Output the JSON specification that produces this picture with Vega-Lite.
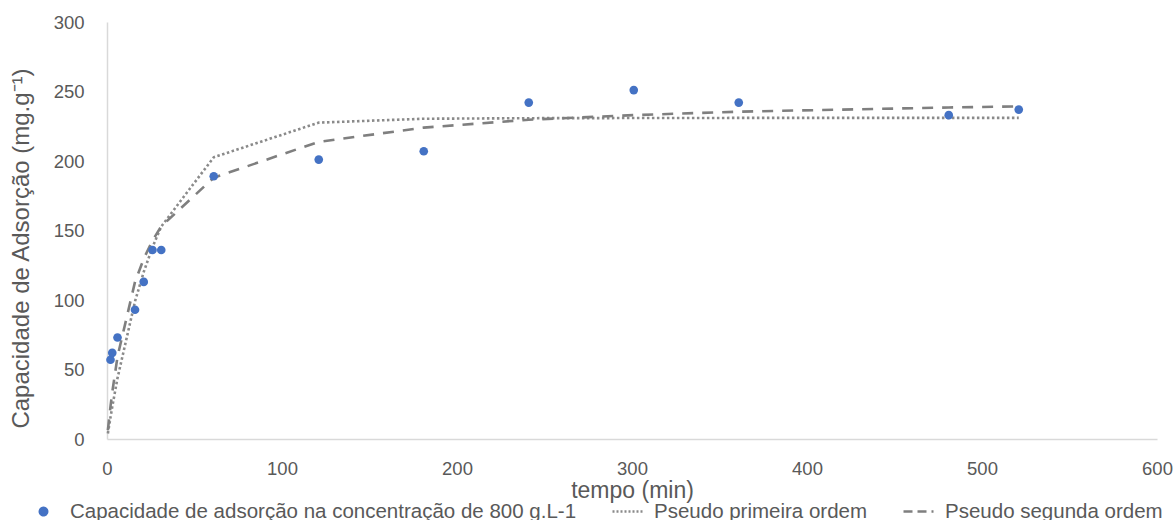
{
  "$schema": "https://vega.github.io/schema/vega-lite/v6.json",
  "autosize": "none",
  "width": 1050,
  "height": 417,
  "padding": {"left": 107, "top": 22, "right": 19, "bottom": 81},
  "background": "white",
  "config": {
    "view": {"stroke": null},
    "font": "Liberation Sans",
    "axis": {
      "grid": false,
      "ticks": false,
      "labelFlush": false,
      "domainColor": "#d9d9d9",
      "domainWidth": 1.5,
      "labelColor": "#595959",
      "titleColor": "#595959",
      "labelFontSize": 18.5,
      "titleFontSize": 24,
      "titleFontWeight": "normal",
      "labelFont": "Liberation Sans",
      "titleFont": "Liberation Sans"
    }
  },
  "data": {
    "values": [
      {"series": "Capacidade de adsorção na concentração de 800 g.L-1", "t": 2, "q": 57},
      {"series": "Capacidade de adsorção na concentração de 800 g.L-1", "t": 3, "q": 62},
      {"series": "Capacidade de adsorção na concentração de 800 g.L-1", "t": 6, "q": 73},
      {"series": "Capacidade de adsorção na concentração de 800 g.L-1", "t": 16, "q": 93},
      {"series": "Capacidade de adsorção na concentração de 800 g.L-1", "t": 21, "q": 113},
      {"series": "Capacidade de adsorção na concentração de 800 g.L-1", "t": 26, "q": 136},
      {"series": "Capacidade de adsorção na concentração de 800 g.L-1", "t": 31, "q": 136},
      {"series": "Capacidade de adsorção na concentração de 800 g.L-1", "t": 61, "q": 189},
      {"series": "Capacidade de adsorção na concentração de 800 g.L-1", "t": 121, "q": 201},
      {"series": "Capacidade de adsorção na concentração de 800 g.L-1", "t": 181, "q": 207},
      {"series": "Capacidade de adsorção na concentração de 800 g.L-1", "t": 241, "q": 242},
      {"series": "Capacidade de adsorção na concentração de 800 g.L-1", "t": 301, "q": 251},
      {"series": "Capacidade de adsorção na concentração de 800 g.L-1", "t": 361, "q": 242},
      {"series": "Capacidade de adsorção na concentração de 800 g.L-1", "t": 481, "q": 233},
      {"series": "Capacidade de adsorção na concentração de 800 g.L-1", "t": 521, "q": 237},
      {"series": "Pseudo primeira ordem", "t": 0.5, "q": 4},
      {"series": "Pseudo primeira ordem", "t": 2, "q": 15.6},
      {"series": "Pseudo primeira ordem", "t": 3, "q": 23.1},
      {"series": "Pseudo primeira ordem", "t": 6, "q": 43.8},
      {"series": "Pseudo primeira ordem", "t": 16, "q": 99},
      {"series": "Pseudo primeira ordem", "t": 21, "q": 120.2},
      {"series": "Pseudo primeira ordem", "t": 26, "q": 138},
      {"series": "Pseudo primeira ordem", "t": 31, "q": 152.9},
      {"series": "Pseudo primeira ordem", "t": 61, "q": 202.7},
      {"series": "Pseudo primeira ordem", "t": 121, "q": 227.6},
      {"series": "Pseudo primeira ordem", "t": 181, "q": 230.4},
      {"series": "Pseudo primeira ordem", "t": 241, "q": 230.8},
      {"series": "Pseudo primeira ordem", "t": 301, "q": 230.9},
      {"series": "Pseudo primeira ordem", "t": 361, "q": 231},
      {"series": "Pseudo primeira ordem", "t": 481, "q": 231},
      {"series": "Pseudo primeira ordem", "t": 521, "q": 231},
      {"series": "Pseudo segunda ordem", "t": 0.5, "q": 6.3},
      {"series": "Pseudo segunda ordem", "t": 2, "q": 23.5},
      {"series": "Pseudo segunda ordem", "t": 3, "q": 33.6},
      {"series": "Pseudo segunda ordem", "t": 6, "q": 59.2},
      {"series": "Pseudo segunda ordem", "t": 16, "q": 113},
      {"series": "Pseudo segunda ordem", "t": 21, "q": 129.7},
      {"series": "Pseudo segunda ordem", "t": 26, "q": 142.8},
      {"series": "Pseudo segunda ordem", "t": 31, "q": 153},
      {"series": "Pseudo segunda ordem", "t": 61, "q": 188},
      {"series": "Pseudo segunda ordem", "t": 121, "q": 213.8},
      {"series": "Pseudo segunda ordem", "t": 181, "q": 224},
      {"series": "Pseudo segunda ordem", "t": 241, "q": 229.7},
      {"series": "Pseudo segunda ordem", "t": 301, "q": 233},
      {"series": "Pseudo segunda ordem", "t": 361, "q": 235.5},
      {"series": "Pseudo segunda ordem", "t": 481, "q": 238.5},
      {"series": "Pseudo segunda ordem", "t": 521, "q": 239.3}
    ]
  },
  "encoding": {
    "x": {
      "field": "t", "type": "quantitative",
      "scale": {"domain": [0, 600], "nice": false},
      "axis": {"values": [0, 100, 200, 300, 400, 500, 600], "title": "tempo (min)", "labelPadding": 20, "titlePadding": 2, "titleFontSize": 23}
    },
    "y": {
      "field": "q", "type": "quantitative",
      "scale": {"domain": [0, 300], "nice": false},
      "axis": {"values": [0, 50, 100, 150, 200, 250, 300], "title": "Capacidade de Adsorção (mg.g⁻¹)", "labelPadding": 23, "titlePadding": 20, "titleY": 226}
    },
    "color": {
      "field": "series", "type": "nominal",
      "scale": {
        "domain": ["Capacidade de adsorção na concentração de 800 g.L-1", "Pseudo primeira ordem", "Pseudo segunda ordem"],
        "range": ["#4472c4", "#8a8a8a", "#7f7f7f"]
      },
      "legend": {
        "title": null,
        "orient": "none",
        "legendX": -80,
        "legendY": 473,
        "direction": "horizontal",
        "labelFontSize": 20.5,
        "labelLimit": 1000,
        "labelColor": "#595959",
        "labelFont": "Liberation Sans",
        "columnPadding": 30,
        "symbolOffset": 0,
        "labelOffset": 10,
        "encode": {
          "symbols": {
            "update": {
              "shape": {"signal": "datum.value === 'Capacidade de adsorção na concentração de 800 g.L-1' ? 'circle' : 'stroke'"},
              "size": {"signal": "datum.value === 'Capacidade de adsorção na concentração de 800 g.L-1' ? 55 : 900"},
              "fill": {"signal": "datum.value === 'Capacidade de adsorção na concentração de 800 g.L-1' ? '#4472c4' : 'transparent'"},
              "stroke": {"signal": "datum.value === 'Capacidade de adsorção na concentração de 800 g.L-1' ? 'transparent' : '#7f7f7f'"},
              "strokeWidth": {"value": 2.5},
              "strokeDash": {"signal": "datum.value === 'Pseudo primeira ordem' ? [2, 2] : (datum.value === 'Pseudo segunda ordem' ? [9, 5] : [1, 0])"},
              "opacity": {"value": 1}
            }
          }
        }
      }
    }
  },
  "layer": [
    {
      "transform": [{"filter": "datum.series !== 'Capacidade de adsorção na concentração de 800 g.L-1'"}],
      "mark": {"type": "line", "strokeWidth": 2.6},
      "encoding": {
        "detail": {"field": "series"},
        "strokeDash": {
          "field": "series", "type": "nominal", "legend": null,
          "scale": {"domain": ["Pseudo primeira ordem", "Pseudo segunda ordem"], "range": [[2.5, 2.5], [11, 9]]}
        }
      }
    },
    {
      "transform": [{"filter": "datum.series === 'Capacidade de adsorção na concentração de 800 g.L-1'"}],
      "mark": {"type": "point", "filled": true, "opacity": 1, "size": 75, "shape": "circle"}
    }
  ]
}
